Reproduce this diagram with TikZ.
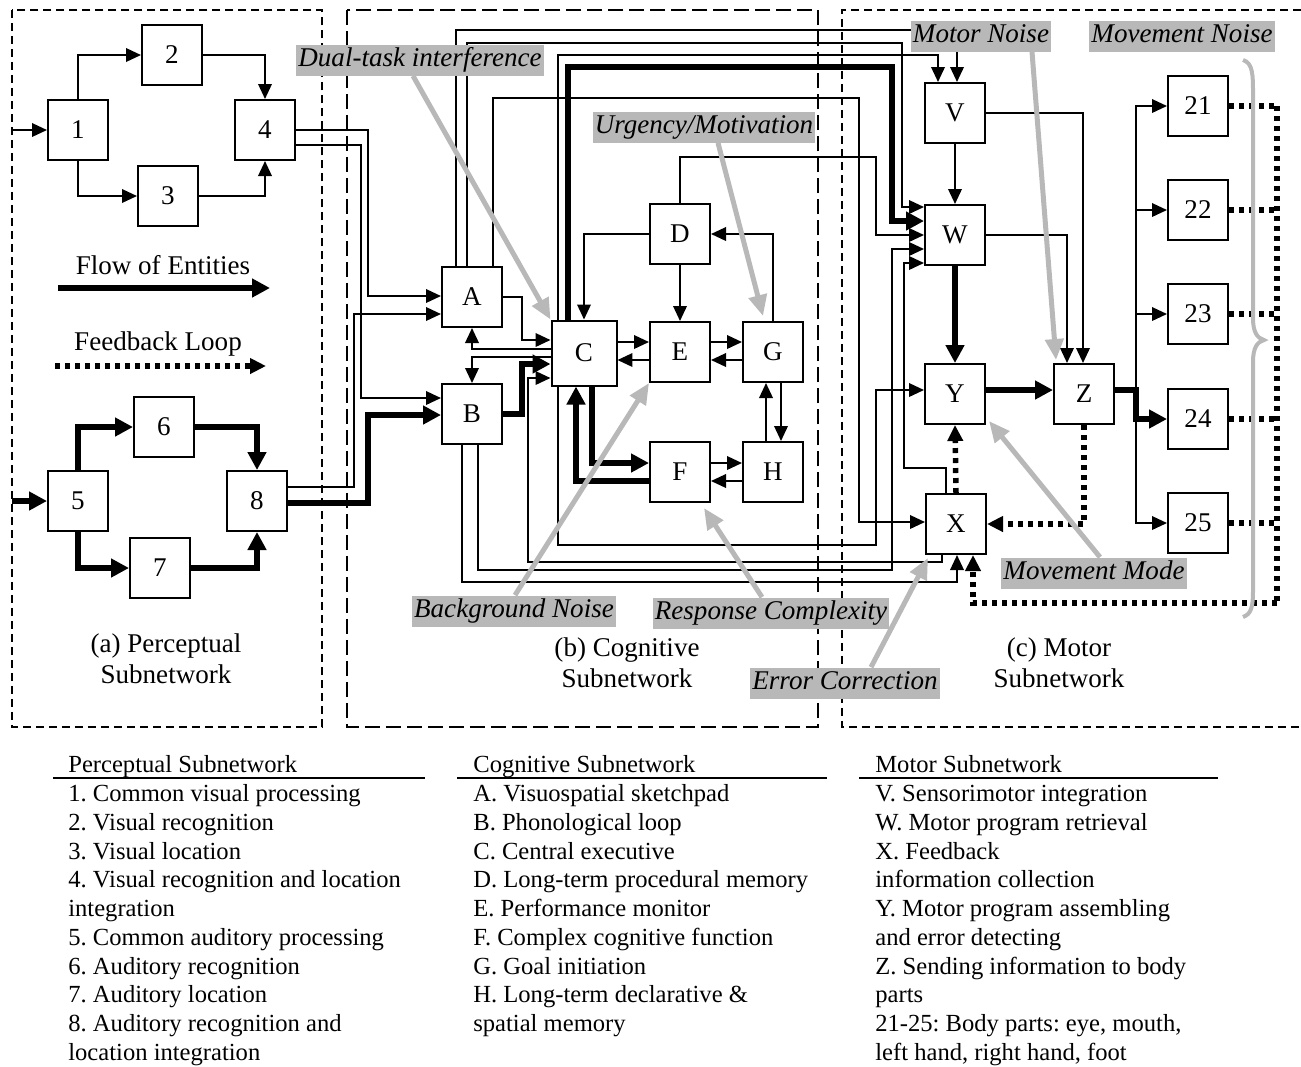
\documentclass[tikz,border=0pt]{standalone}
\usepackage{fontspec}
\setmainfont{Liberation Serif}
\usetikzlibrary{arrows.meta,calc}
\definecolor{noisegray}{RGB}{184,184,184}
\frenchspacing

\begin{document}
\begin{tikzpicture}[x=0.02cm,y=-0.02cm,
		box/.style={draw,line width=0.04cm,fill=white,minimum width=1.2cm,minimum height=1.2cm,inner sep=0pt,font=\fontsize{15.4}{17.6}\selectfont},
		arr/.style={line width=0.04cm,-{Triangle[length=0.3cm,width=0.27cm]}},
		thk/.style={line width=0.11cm,-{Triangle[length=0.36cm,width=0.36cm]}},
		fb/.style={line width=0.11cm,dash pattern=on 0.1cm off 0.1cm},
		fbarr/.style={fb,-{Triangle[length=0.32cm,width=0.3cm]}},
		subnet/.style={line width=0.035cm,dash pattern=on 0.16cm off 0.1cm},
		lbl/.style={align=center,font=\fontsize{15.4}{17.6}\selectfont},
		noise/.style={fill=noisegray,inner xsep=0.04cm,inner ysep=0.06cm,text height=0.38cm,text depth=0.12cm,font=\fontsize{15.4}{17.6}\selectfont\itshape},
		noisearr/.style={draw=noisegray,line width=0.1cm,-{Triangle[length=0.42cm,width=0.36cm]}},
		lst/.style={anchor=base west,inner sep=0pt,font=\fontsize{14}{16}\selectfont}]
	\useasboundingbox (0,0) rectangle (1301,1066);
	
	% Riquadri delle sottoreti
	\draw[subnet] (12,10) rectangle (322,727);
	\draw[subnet,dash pattern=on 0.3cm off 0.12cm] (347,10) rectangle (818,727);
	\draw[subnet] (1301,10) -- (842,10) -- (842,727) -- (1301,727);
	
	% Sottorete percettiva
	\node[box] (p1) at (78,130) {1};
	\node[box] (p2) at (172,55) {2};
	\node[box] (p3) at (168,196) {3};
	\node[box] (p4) at (265,130) {4};
	\node[box] (p5) at (78,501) {5};
	\node[box] (p6) at (164,427) {6};
	\node[box] (p7) at (160,568) {7};
	\node[box] (p8) at (257,501) {8};
	\coordinate (visin) at (12,130);
	\coordinate (audin) at (12,501);
	\draw[arr] (visin) -- (p1.west);
	\draw[arr] (p1.north) |- (p2.west);
	\draw[arr] (p2.east) -| (p4.north);
	\draw[arr] (p1.south) |- (p3.west);
	\draw[arr] (p3.east) -| (p4.south);
	\draw[thk] (audin) -- (p5.west);
	\draw[thk] (p5.north) |- (p6.west);
	\draw[thk] (p6.east) -| (p8.north);
	\draw[thk] (p5.south) |- (p7.west);
	\draw[thk] (p7.east) -| (p8.south);
	
	% Legenda delle frecce
	\node[lbl] (flowtxt) at (163,265) {Flow of Entities};
	\coordinate (flowa) at (58,288);
	\coordinate (flowb) at (270,288);
	\draw[thk] (flowa) -- (flowb);
	\node[lbl] (fbtxt) at (158,344) {Feedback Loop};
	\coordinate (fba) at (55,366);
	\coordinate (fbb) at (266,366);
	\draw[fbarr] (fba) -- (fbb);
	\node[lbl] (capa) at (166,659) {(a) Perceptual\\Subnetwork};
	
	% Sottorete cognitiva
	\node[box] (A) at (472,297) {A};
	\node[box] (B) at (472,414) {B};
	\node[box,minimum width=1.3cm,minimum height=1.3cm] (C) at (584,353) {C};
	\node[box] (D) at (680,234) {D};
	\node[box] (E) at (680,352) {E};
	\node[box] (F) at (680,472) {F};
	\node[box] (G) at (773,352) {G};
	\node[box] (H) at (773,472) {H};
	\node[lbl] (capb) at (627,663) {(b) Cognitive\\Subnetwork};
	
	% Sottorete motoria
	\node[box] (V) at (955,113) {V};
	\node[box] (W) at (955,235) {W};
	\node[box] (Y) at (955,394) {Y};
	\node[box] (Z) at (1084,394) {Z};
	\node[box] (X) at (956,524) {X};
	\foreach \b/\y in {21/106,22/210,23/314,24/419,25/523}
		\node[box] (b\b) at (1198,\y) {\b};
	\node[lbl] (capc) at (1059,663) {(c) Motor\\Subnetwork};
	
	% Dalla percezione alla cognizione
	\draw[arr] (p4.east) -| (368,296) -- (A.west |- 0,296);
	\draw[arr] (p4.east |- 0,145) -| (361,398) -- (B.west |- 0,398);
	\draw[arr] (p8.east |- 0,487) -| (354,314) -- (A.west |- 0,314);
	\draw[thk] (p8.east |- 0,503) -| (368,415) -- (B.west |- 0,415);
	
	% Collegamenti cognitivi
	\draw[arr] (A.east) -| (522,340) -- (C.west |- 0,340);
	\draw[arr] (C.west |- 0,349) -| (A.south);
	\draw[arr] (C.west |- 0,357) -| (B.north);
	\draw[thk] (B.east) -| (522,364) -- (C.west |- 0,364);
	\draw[arr] (D.west) -| (C.north);
	\draw[arr] (D.south) -- (E.north);
	\draw[arr] (G.north) |- (D.east);
	\draw[arr] (C.east |- 0,342) -- (E.west |- 0,342);
	\draw[arr] (E.west |- 0,360) -- (C.east |- 0,360);
	\draw[arr] (E.east |- 0,342) -- (G.west |- 0,342);
	\draw[arr] (G.west |- 0,360) -- (E.east |- 0,360);
	\draw[thk] (C.south -| 592,0) |- (F.west |- 0,463);
	\draw[thk] (F.west |- 0,481) -| (C.south -| 576,0);
	\draw[arr] (F.east |- 0,463) -- (H.west |- 0,463);
	\draw[arr] (H.west |- 0,481) -- (F.east |- 0,481);
	\draw[arr] (H.north -| 766,0) -- (G.south -| 766,0);
	\draw[arr] (G.south -| 781,0) -- (H.north -| 781,0);
	
	% Verso la sottorete motoria
	\draw[arr] (A.north -| 456,0) |- (957,30) -- (V.north -| 957,0);
	\draw[arr] (A.north -| 467,0) |- (902,43) |- (W.west |- 0,207);
	\draw[arr] (A.north -| 493,0) |- (859,98) |- (X.west |- 0,522);
	\draw[arr] (C.north -| 558,0) |- (938,55) -- (V.north -| 938,0);
	\draw[thk] (C.north -| 568,0) |- (892,67) |- (W.west |- 0,221);
	\draw[arr] (D.north) |- (876,157) |- (W.west);
	\draw[arr] (C.south -| 558,0) |- (876,545) |- (Y.west |- 0,390);
	\draw[arr] (X.south -| 942,0) |- (528,562) |- (C.west |- 0,378);
	\draw[arr] (B.south -| 478,0) |- (892,570) |- (W.west |- 0,249);
	\draw[arr] (B.south -| 462,0) |- (957,582) -- (X.south -| 957,0);
	\draw[arr] (X.north -| 946,0) |- (904,468) |- (W.west |- 0,263);
	
	% Collegamenti motori
	\draw[arr] (V.south) -- (W.north);
	\draw[arr] (V.east) -| (Z.north -| 1083,0);
	\draw[arr] (W.east) -| (Z.north -| 1067,0);
	\draw[thk] (W.south) -- (Y.north);
	\draw[thk] (Y.east |- 0,390) -- (Z.west |- 0,390);
	\draw[fbarr] (X.north) -- (Y.south);
	\draw[fbarr] (Z.south) |- (X.east);
	\coordinate (zsplit) at (1136,390);
	\draw[thk] (Z.east |- 0,390) -- (zsplit) |- (b24.west);
	\foreach \b in {21,22,23,25}
		\draw[arr] (zsplit) |- (b\b.west);
	\coordinate (fbr) at (1277,603);
	\foreach \b in {21,...,25}
		\draw[fb] (b\b.east) -- (b\b.east -| fbr);
	\draw[fb] (b21.east -| fbr) -- (fbr);
	\draw[fbarr] (fbr) -| (X.south -| 973,0);
	
	% Fattori esterni
	\node[noise] (dual) at (420,60) {Dual-task interference};
	\node[noise] (urg) at (704,127) {Urgency/Motivation};
	\node[noise] (bgn) at (514,611) {Background Noise};
	\node[noise] (resp) at (771,613) {Response Complexity};
	\node[noise] (errc) at (845,683) {Error Correction};
	\node[noise] (mnoise) at (981,36) {Motor Noise};
	\node[noise] (mvnoise) at (1182,36) {Movement Noise};
	\node[noise] (mmode) at (1094,573) {Movement Mode};
	\draw[noisearr] (dual.south -| 413,0) -- (C.north west);
	\draw[noisearr] (urg.south -| 718,0) -- ($(G.north west)+(21,-5)$);
	\draw[noisearr] (bgn.north -| 515,0) -- (E.south west);
	\draw[noisearr] (resp.north -| 762,0) -- ($(F.south east)+(-7,5)$);
	\draw[noisearr] (errc.north -| 871,0) -- ($(X.south west)+(3,3)$);
	\draw[noisearr] (mnoise.south -| 1032,0) -- ($(Z.north west)+(3,-3)$);
	\draw[noisearr] (mmode.north -| 1100,0) -- ($(Y.south east)+(3,-4)$);
	\draw[draw=noisegray,line width=0.08cm] (1243,60) .. controls (1253,63) and (1253,75) .. (1253,95) -- (1253,318) .. controls (1253,332) and (1257,338) .. (1264,340) .. controls (1257,342) and (1253,348) .. (1253,362) -- (1253,590) .. controls (1253,608) and (1251,614) .. (1243,617);
	
	% Legende in basso
	\node[lst] (tp) at (68,772) {Perceptual Subnetwork};
	\draw[line width=0.035cm] (53,778) -- (425,778);
	\foreach \t [count=\i] in {1. Common visual processing, 2. Visual recognition, 3. Visual location, 4. Visual recognition and location, integration, 5. Common auditory processing, 6. Auditory recognition, 7. Auditory location, 8. Auditory recognition and, location integration}
		\node[lst] (lp\i) at (68,{773.3+28.67*\i}) {\t};
	\node[lst] (tc) at (473,772) {Cognitive Subnetwork};
	\draw[line width=0.035cm] (457,778) -- (827,778);
	\foreach \t [count=\i] in {A. Visuospatial sketchpad, B. Phonological loop, C. Central executive, D. Long-term procedural memory, E. Performance monitor, F. Complex cognitive function, G. Goal initiation, H. Long-term declarative \&, spatial memory}
		\node[lst] (lc\i) at (473,{773.3+28.67*\i}) {\t};
	\node[lst] (tm) at (875,772) {Motor Subnetwork};
	\draw[line width=0.035cm] (859,778) -- (1218,778);
	\foreach \t [count=\i] in {V. Sensorimotor integration, W. Motor program retrieval, X. Feedback, information collection, Y. Motor program assembling, and error detecting, Z. Sending information to body, parts, {21-25: Body parts: eye, mouth,}, {left hand, right hand, foot}}
		\node[lst] (lm\i) at (875,{773.3+28.67*\i}) {\t};
\end{tikzpicture}
\end{document}
